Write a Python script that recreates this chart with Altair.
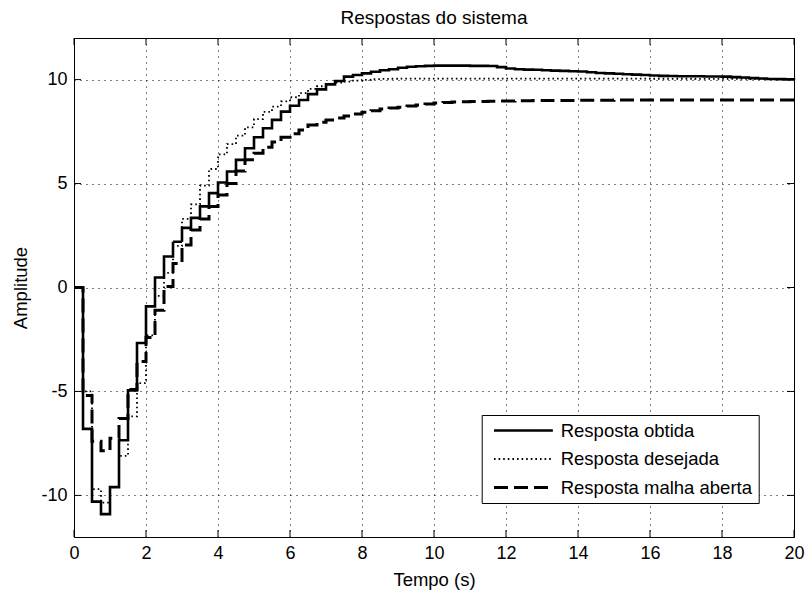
import altair as alt
import pandas as pd

# ---------------- data ----------------
step = 0.25
obtida = [
    0, -6.8, -10.3, -10.9, -9.6, -7.35, -4.95, -2.67, -0.91, 0.48,
    1.49, 2.2, 2.87, 3.35, 3.9, 4.54, 5.05, 5.58, 6.14, 6.7,
    7.23, 7.66, 8.06, 8.46, 8.74, 9.02, 9.3, 9.53, 9.77, 9.93,
    10.14, 10.22, 10.3, 10.38, 10.45, 10.5, 10.57, 10.62, 10.64, 10.66,
    10.67, 10.67, 10.67, 10.67, 10.66, 10.66, 10.65, 10.6, 10.53, 10.5,
    10.48, 10.47, 10.45, 10.43, 10.42, 10.4, 10.39, 10.35, 10.32, 10.3,
    10.28, 10.26, 10.24, 10.22, 10.2, 10.18, 10.17, 10.16, 10.16, 10.16,
    10.15, 10.15, 10.14, 10.12, 10.1, 10.07, 10.05, 10.03, 10.02, 10.01,
    10.0,
]
desejada = [
    0, -5.0, -9.7, -10.35, -9.6, -8.1, -6.2, -4.6, -2.3, -0.4,
    0.7, 2.0, 3.3, 4.0, 4.9, 5.7, 6.4, 6.9, 7.3, 7.7,
    8.1, 8.45, 8.7, 8.95, 9.15, 9.35, 9.55, 9.68, 9.78, 9.85,
    9.9, 9.95, 9.99, 10.02, 10.03, 10.04, 10.05, 10.05, 10.05, 10.05,
    10.05, 10.05, 10.05, 10.05, 10.05, 10.05, 10.05, 10.05, 10.05, 10.05,
    10.05, 10.05, 10.05, 10.05, 10.05, 10.05, 10.05, 10.05, 10.05, 10.05,
    10.05, 10.05, 10.05, 10.05, 10.04, 10.04, 10.04, 10.04, 10.04, 10.03,
    10.03, 10.03, 10.03, 10.03, 10.03, 10.02, 10.02, 10.02, 10.02, 10.02,
    10.02,
]
malha_aberta = [
    0, -5.2, -7.4, -7.85, -7.25, -6.3, -4.9, -3.56, -2.4, -1.1,
    0.05, 1.15, 2.05, 2.77, 3.3, 3.9, 4.45, 5.0, 5.6, 6.14,
    6.46, 6.75, 7.0, 7.23, 7.4, 7.58, 7.82, 7.95, 8.06, 8.15,
    8.25, 8.35, 8.43, 8.5, 8.58, 8.63, 8.67, 8.73, 8.78, 8.83,
    8.87, 8.9, 8.92, 8.93, 8.94, 8.95, 8.96, 8.97, 8.97, 8.98,
    8.98, 8.99, 8.99, 9.0, 9.0, 9.0, 9.01, 9.01, 9.01, 9.01,
    9.02, 9.02, 9.02, 9.02, 9.02, 9.02, 9.02, 9.02, 9.02, 9.02,
    9.02, 9.02, 9.02, 9.02, 9.02, 9.02, 9.02, 9.02, 9.02, 9.02,
    9.02,
]
time = [round(i * step, 2) for i in range(len(obtida))]

names = ["Resposta obtida", "Resposta desejada", "Resposta malha aberta"]
x_ticks = [0, 2, 4, 6, 8, 10, 12, 14, 16, 18, 20]
y_ticks = [-10, -5, 0, 5, 10]

rows = []
for name, vals in zip(names, [obtida, desejada, malha_aberta]):
    for t, v in zip(time, vals):
        rows.append({"t": t, "v": v, "serie": name})
df = pd.DataFrame(rows)
xt = pd.DataFrame({"t": x_ticks})
yt = pd.DataFrame({"v": y_ticks})

W, H = 720, 499
TICK = 7
TEXT_FONT = "Liberation Sans"
TICK_FONT = "Liberation Sans"
MINUS_FIX = "replace(datum.label, '\u2212', '-')"

x_enc = alt.X(
    "t:Q",
    scale=alt.Scale(domain=[0, 20], nice=False, zero=False),
    axis=alt.Axis(
        values=x_ticks, title="Tempo (s)", grid=True, gridColor="#000000",
        gridDash=[1, 5], gridWidth=1, gridOpacity=1, tickSize=0, domain=False,
        labelFont=TICK_FONT, labelFontSize=18, labelColor="#000000",
        labelPadding=7, labelFlush=False,
        titleFont=TEXT_FONT, titleFontSize=18.5, titleFontWeight="normal",
        titleColor="#000000", titleX=W / 2, titleY=42,
        titleBaseline="middle", titleAlign="center",
    ),
)
y_enc = alt.Y(
    "v:Q",
    scale=alt.Scale(domain=[-12, 12], nice=False, zero=False),
    axis=alt.Axis(
        values=y_ticks, title="Amplitude", grid=True, gridColor="#000000",
        gridDash=[1, 5], gridWidth=1, gridOpacity=1, tickSize=0, domain=False,
        labelFont=TICK_FONT, labelFontSize=18, labelColor="#000000",
        labelPadding=7, labelFlush=False, labelExpr=MINUS_FIX,
        titleFont=TEXT_FONT, titleFontSize=18.5, titleFontWeight="normal",
        titleColor="#000000", titleX=-54, titleY=H / 2, titleAngle=270,
        titleBaseline="middle", titleAlign="center",
    ),
)

legend = alt.Legend(
    title=None, orient="none", legendX=407.7, legendY=377, direction="vertical",
    symbolType="M-0.86,0H1", symbolSize=4007, symbolStrokeColor="#000000",
    symbolFillColor="transparent",
    labelFont=TEXT_FONT, labelFontSize=18.5, labelColor="#000000",
    labelLimit=400, labelOffset=6, clipHeight=19, rowPadding=9.5, padding=6,
    fillColor="#ffffff", strokeColor="#000000",
)

lines = alt.Chart(df).mark_line(interpolate="step-after", color="#000000").encode(
    x=x_enc,
    y=y_enc,
    strokeDash=alt.StrokeDash(
        "serie:N", sort=names,
        scale=alt.Scale(domain=names, range=[[1, 0], [1.6, 3], [14, 6]]),
        legend=legend,
    ),
    strokeWidth=alt.StrokeWidth(
        "serie:N", sort=names,
        scale=alt.Scale(type="ordinal", domain=names, range=[2.6, 1.8, 3.0]),
        legend=legend,
    ),
    order=alt.Order("serie:N"),
)

rule_style = dict(color="#000000", strokeWidth=1)
tx_top = alt.Chart(xt).mark_rule(**rule_style).encode(
    x=x_enc, y=alt.value(0), y2=alt.value(TICK))
tx_bot = alt.Chart(xt).mark_rule(**rule_style).encode(
    x=x_enc, y=alt.value(H - TICK), y2=alt.value(H))
ty_left = alt.Chart(yt).mark_rule(**rule_style).encode(
    y=y_enc, x=alt.value(0), x2=alt.value(TICK))
ty_right = alt.Chart(yt).mark_rule(**rule_style).encode(
    y=y_enc, x=alt.value(W - TICK), x2=alt.value(W))

chart = alt.layer(lines, tx_top, tx_bot, ty_left, ty_right).properties(
    width=W, height=H,
    title=alt.TitleParams(
        "Respostas do sistema", font=TEXT_FONT, fontSize=19,
        fontWeight="normal", color="#000000", offset=10, anchor="middle",
    ),
    autosize=alt.AutoSizeParams(type="none"),
    padding={"left": 74, "top": 38, "right": 11, "bottom": 55},
    background="#ffffff",
).configure_view(stroke="#000000", strokeWidth=1)

chart.save("out.html", embed_options={"renderer": "svg", "actions": False})
